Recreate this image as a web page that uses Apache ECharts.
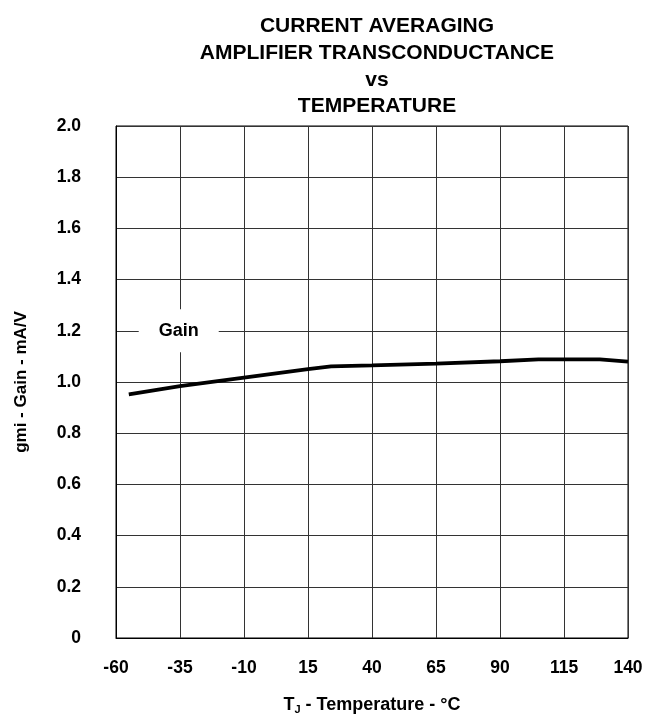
<!DOCTYPE html>
<html>
<head>
<meta charset="utf-8">
<script src="https://cdn.jsdelivr.net/npm/echarts@6/dist/echarts.min.js"></script>
<style>html,body{margin:0;padding:0;background:#fff;}#c{width:646px;height:723px;}</style>
</head>
<body>
<div id="c"></div>
<script>
var titleLines = ['CURRENT AVERAGING', 'AMPLIFIER TRANSCONDUCTANCE', 'vs', 'TEMPERATURE'];
var xTickLabels = [-60, -35, -10, 15, 40, 65, 90, 115, 140];
var yTickLabels = [0, 0.2, 0.4, 0.6, 0.8, 1.0, 1.2, 1.4, 1.6, 1.8, 2.0];
var temperature = [-55, -35, -10, 15, 24, 40, 65, 90, 105, 129, 140];
var gain = [0.952, 0.984, 1.017, 1.05, 1.061, 1.065, 1.072, 1.081, 1.088, 1.088, 1.08];
var seriesName = 'Gain';
var labelPos = [-35.5, 1.2];

var X0 = xTickLabels[0];
var font = '"Liberation Sans", Arial, sans-serif';
var chart = echarts.init(document.getElementById('c'), null, {renderer: 'canvas'});
var data = temperature.map(function (t, i) { return [t - X0, gain[i]]; });
chart.setOption({
  backgroundColor: '#fff',
  animation: false,
  title: {
    text: titleLines.join('\n'),
    left: 372, top: 8, textAlign: 'center',
    textStyle: {fontFamily: font, fontWeight: 'bold', fontSize: 21, lineHeight: 26.7, color: '#000'}
  },
  grid: {left: 116, right: 18, top: 126, bottom: 85, show: true, borderColor: '#000', borderWidth: 1},
  xAxis: {
    type: 'value', min: 0, max: xTickLabels[xTickLabels.length - 1] - X0, interval: 25,
    axisLine: {show: true, lineStyle: {color: '#000', width: 1}},
    axisTick: {show: false},
    splitLine: {show: true, lineStyle: {color: '#333', width: 1}},
    axisLabel: {margin: 21, fontFamily: font, fontWeight: 'bold', fontSize: 17.5, color: '#000',
      formatter: function (v) { return String(v + X0); }},
    name: '{t|T}{s|J}{t| - Temperature - °C}',
    nameLocation: 'middle', nameGap: 57,
    nameTextStyle: {fontFamily: font, fontWeight: 'bold', fontSize: 18, color: '#000',
      rich: {t: {fontFamily: font, fontWeight: 'bold', fontSize: 18, color: '#000'},
             s: {fontFamily: font, fontWeight: 'bold', fontSize: 11, color: '#000', verticalAlign: 'bottom', padding: [9, 0, 0, 0]}}}
  },
  yAxis: {
    type: 'value', min: 0, max: 2, interval: 0.2,
    axisLine: {show: true, lineStyle: {color: '#000', width: 1}},
    axisTick: {show: false},
    splitLine: {show: true, lineStyle: {color: '#333', width: 1}},
    axisLabel: {margin: 35, fontFamily: font, fontWeight: 'bold', fontSize: 17.5, color: '#000',
      formatter: function (v) { return v === 0 ? '0' : v.toFixed(1); }},
    name: 'gmi - Gain - mA/V',
    nameLocation: 'middle', nameGap: 86,
    nameTextStyle: {fontFamily: font, fontWeight: 'bold', fontSize: 17, color: '#000'}
  },
  series: [{
    name: seriesName, type: 'line', data: data, symbol: 'none', smooth: false,
    lineStyle: {color: '#000', width: 3.8},
    markPoint: {
      silent: true,
      symbol: 'rect', symbolSize: [80, 43],
      itemStyle: {color: '#fff'},
      label: {show: true, position: 'inside', formatter: seriesName, fontFamily: font, fontWeight: 'bold', fontSize: 18, color: '#000'},
      data: [{coord: [labelPos[0] - X0, labelPos[1]]}]
    }
  }]
});
</script>
</body>
</html>
